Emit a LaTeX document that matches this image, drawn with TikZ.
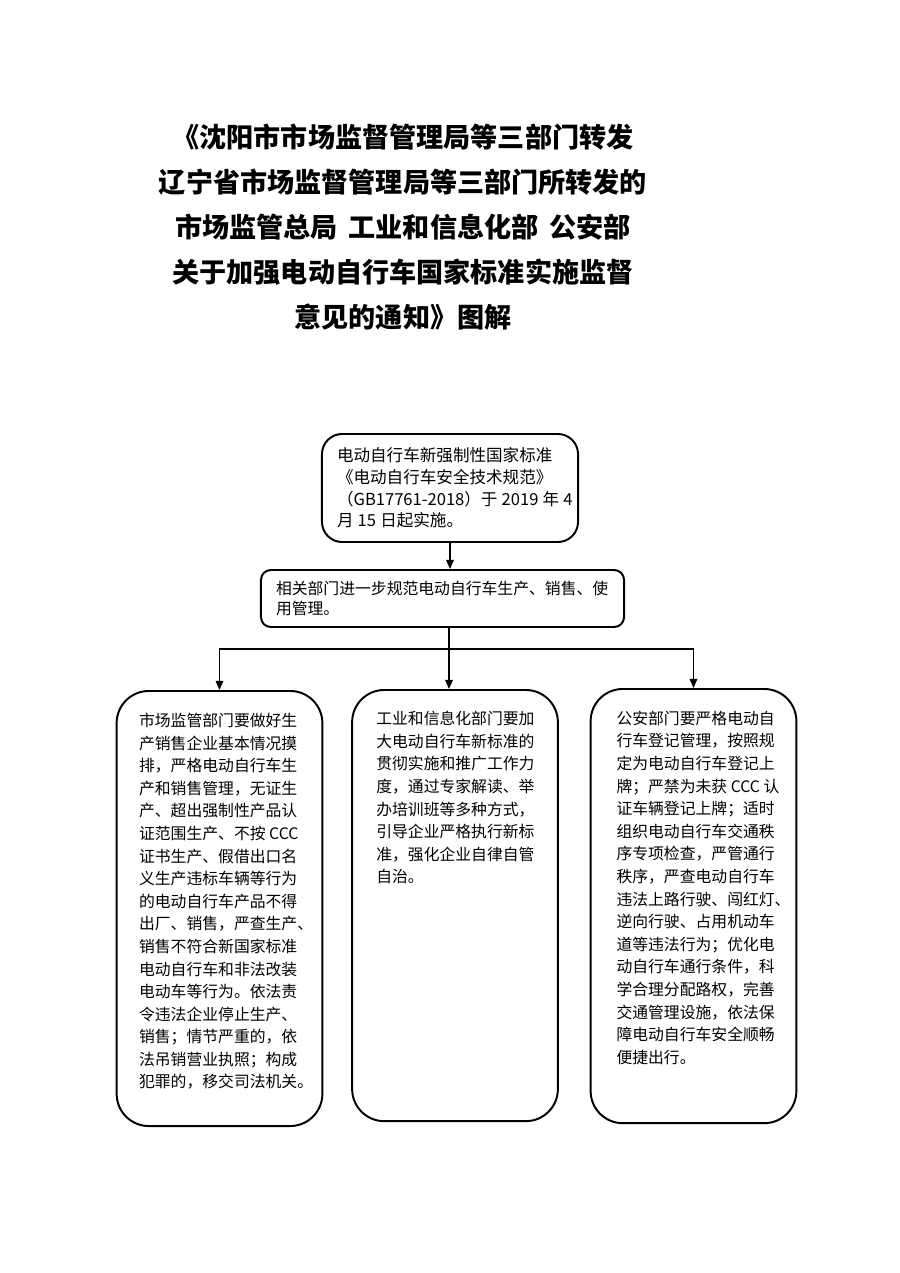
\documentclass[tikz,border=0pt]{standalone}
\usepackage{fontspec}
\setmainfont{Noto Sans CJK SC}
\usetikzlibrary{arrows.meta}
\tikzset{
  box/.style={draw=black, line width=1.3pt, align=left},
  panel/.style={draw=black, line width=1.3pt, rounded corners=7.5mm, anchor=north, minimum width=48mm},
  paneltext/.style={anchor=north west, align=left, inner sep=0pt, font=\fontsize{10.5}{15}\selectfont},
  link/.style={line width=0.9pt, -{Triangle[length=6pt,width=5pt]}},
}

\begin{document}
\begin{tikzpicture}[x=0.2333mm, y=-0.2333mm]
\useasboundingbox (0,0) rectangle (900,1273);

% title
\node[font=\bfseries\fontsize{18}{29.8}\selectfont, align=center] (title) at (403,227) {%
《沈阳市市场监督管理局等三部门转发\\
辽宁省市场监督管理局等三部门所转发的\\
市场监管总局\hspace{0.4em}工业和信息化部\hspace{0.4em}公安部\\
关于加强电动自行车国家标准实施监督\\
意见的通知》图解};

\node[box, rounded corners=4.7mm, text width=150pt, inner xsep=10pt, minimum height=25.2mm, font=\fontsize{11}{14.4}\selectfont] (std) at (450,488) {%
电动自行车新强制性国家标准\\
《电动自行车安全技术规范》\\
\mbox{（GB17761-2018）于\hspace{0.25em}2019\hspace{0.25em}年\hspace{0.25em}4}\\
月\hspace{0.25em}15\hspace{0.25em}日起实施。};

\node[box, rounded corners=2.3mm, text width=221pt, inner xsep=10pt, minimum height=13.3mm, font=\fontsize{10.5}{13.5}\selectfont] (dept) at (442.5,598.5) {%
相关部门进一步规范电动自行车生产、销售、使\\
用管理。};

% three departments
\node[panel, minimum height=101.5mm] (market) at (219.5,690) {};
\node[panel, minimum height=100.6mm] (industry) at (455,689) {};
\node[panel, minimum height=101.3mm] (police) at (693.5,688) {};

\node[paneltext] (markettext) at ([xshift=5.4mm,yshift=-5.3mm]market.north west) {%
市场监管部门要做好生\\
产销售企业基本情况摸\\
排，严格电动自行车生\\
产和销售管理，无证生\\
产、超出强制性产品认\\
证范围生产、不按 CCC\\
证书生产、假借出口名\\
义生产违标车辆等行为\\
的电动自行车产品不得\\
出厂、销售，严查生产、\\
销售不符合新国家标准\\
电动自行车和非法改装\\
电动车等行为。依法责\\
令违法企业停止生产、\\
销售；情节严重的，依\\
法吊销营业执照；构成\\
犯罪的，移交司法机关。};

\node[paneltext] (industrytext) at ([xshift=5.8mm,yshift=-5.1mm]industry.north west) {%
工业和信息化部门要加\\
大电动自行车新标准的\\
贯彻实施和推广工作力\\
度，通过专家解读、举\\
办培训班等多种方式，\\
引导企业严格执行新标\\
准，强化企业自律自管\\
自治。};

\node[paneltext] (policetext) at ([xshift=6.2mm,yshift=-5.3mm]police.north west) {%
公安部门要严格电动自\\
行车登记管理，按照规\\
定为电动自行车登记上\\
牌；严禁为未获 CCC 认\\
证车辆登记上牌；适时\\
组织电动自行车交通秩\\
序专项检查，严管通行\\
秩序，严查电动自行车\\
违法上路行驶、闯红灯、\\
逆向行驶、占用机动车\\
道等违法行为；优化电\\
动自行车通行条件，科\\
学合理分配路权，完善\\
交通管理设施，依法保\\
障电动自行车安全顺畅\\
便捷出行。};

% connectors
\coordinate (hub) at (449,649);
\draw[link] (std.south) -- (std.south |- dept.north);
\draw[line width=0.9pt] (hub |- dept.south) -- (hub);
\draw[link] (hub) -| (market.north);
\draw[link] (hub) -- (hub |- industry.north);
\draw[link] (hub) -| (police.north);

\end{tikzpicture}
\end{document}
